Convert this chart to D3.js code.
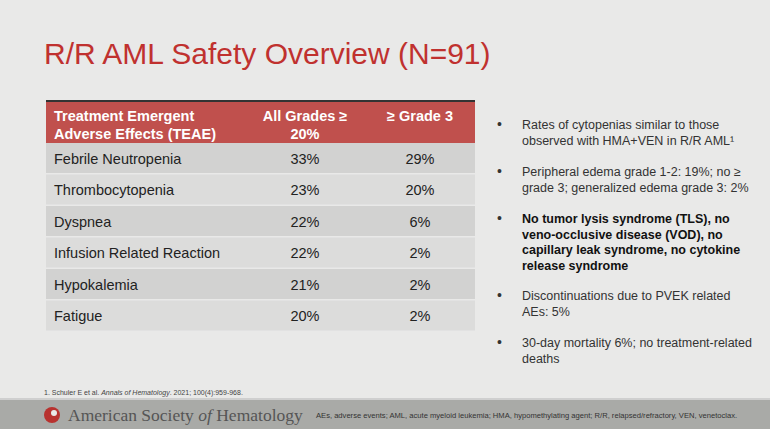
<!DOCTYPE html><html><head><script src="https://cdn.jsdelivr.net/npm/d3@7"></script>
<style>body{margin:0}svg{font-family:"Liberation Sans",Arial,sans-serif}</style></head><body>
<svg id="c" width="770" height="429"></svg>
<script>
const headers=["Treatment Emergent|Adverse Effects (TEAE)","All Grades ≥|20%","≥ Grade 3"];
const events=["Febrile Neutropenia","Thrombocytopenia","Dyspnea","Infusion Related Reaction","Hypokalemia","Fatigue"];
const allGrades=["33%","23%","22%","22%","21%","20%"];
const grade3=["29%","20%","6%","2%","2%","2%"];
const bullets=[
 {b:false,t:["Rates of cytopenias similar to those","observed with HMA+VEN in R/R AML¹"]},
 {b:false,t:["Peripheral edema grade 1-2: 19%; no ≥","grade 3; generalized edema grade 3: 2%"]},
 {b:true,t:["No tumor lysis syndrome (TLS), no","veno-occlusive disease (VOD), no","capillary leak syndrome, no cytokine","release syndrome"]},
 {b:false,t:["Discontinuations due to PVEK related","AEs: 5%"]},
 {b:false,t:["30-day mortality 6%; no treatment-related","deaths"]}];
const bulletY=[126,173,220,297,344];
const svg=d3.select("#c");
svg.append("rect").attr("width",770).attr("height",429).attr("fill","#e9e9e8");
svg.append("text").attr("x",44).attr("y",64).attr("fill","#c0312f").attr("font-size",30).text("R/R AML Safety Overview (N=91)");
const y=d3.scaleBand().domain(events).range([143,332]);
svg.append("rect").attr("x",46).attr("y",100).attr("width",429).attr("height",2).attr("fill","#333");
svg.append("rect").attr("x",46).attr("y",102).attr("width",429).attr("height",41).attr("fill","#c0504d");
const cx=[54,305,420];
headers.forEach((h,i)=>{const t=svg.append("text").attr("fill","#fff").attr("font-weight","bold").attr("font-size",14.5).attr("text-anchor",i?"middle":"start");
 h.split("|").forEach((l,j)=>t.append("tspan").attr("x",cx[i]).attr("y",121+j*18).text(l));});
events.forEach((e,i)=>{
 svg.append("rect").attr("x",46).attr("y",y(e)).attr("width",429).attr("height",y.bandwidth()-1.5).attr("fill",i%2?"#dcdcdb":"#d2d2d1");
 const ty=y(e)+y.bandwidth()/2+5;
 svg.append("text").attr("x",54).attr("y",ty).attr("font-size",14.5).attr("fill","#222").text(e);
 svg.append("text").attr("x",305).attr("y",ty).attr("text-anchor","middle").attr("font-size",14.5).attr("fill","#222").text(allGrades[i]);
 svg.append("text").attr("x",420).attr("y",ty).attr("text-anchor","middle").attr("font-size",14.5).attr("fill","#222").text(grade3[i]);
});
bullets.forEach((b,i)=>{
 svg.append("text").attr("x",497).attr("y",bulletY[i]+3).attr("font-size",14).attr("fill","#333").text("•");
 const t=svg.append("text").attr("font-size",12.5).attr("fill",b.b?"#111":"#333").attr("font-weight",b.b?"bold":"normal");
 b.t.forEach((l,j)=>t.append("tspan").attr("x",522).attr("y",bulletY[i]+3+j*15.5).text(l));
});
const f=svg.append("text").attr("x",44).attr("y",395).attr("font-size",7).attr("fill","#444");
f.append("tspan").text("1. Schuler E et al. ");f.append("tspan").attr("font-style","italic").text("Annals of Hematology");f.append("tspan").text(". 2021; 100(4):959-968.");
svg.append("rect").attr("y",400).attr("width",770).attr("height",29).attr("fill","#a9aaa7");
svg.append("rect").attr("y",398).attr("width",770).attr("height",2).attr("fill","#cfcfcf");
svg.append("circle").attr("cx",52).attr("cy",415).attr("r",8).attr("fill","#b8322f");
svg.append("circle").attr("cx",54).attr("cy",413).attr("r",3).attr("fill","#e9e9e8");
const a=svg.append("text").attr("x",68).attr("y",421).attr("font-family","Liberation Serif,serif").attr("font-size",17.5).attr("fill","#555");
a.append("tspan").text("American Society ");a.append("tspan").attr("font-style","italic").text("of");a.append("tspan").text(" Hematology");
svg.append("text").attr("x",316).attr("y",418).attr("font-size",7.6).attr("fill","#333").text("AEs, adverse events; AML, acute myeloid leukemia; HMA, hypomethylating agent; R/R, relapsed/refractory, VEN, venetoclax.");
</script></body></html>
